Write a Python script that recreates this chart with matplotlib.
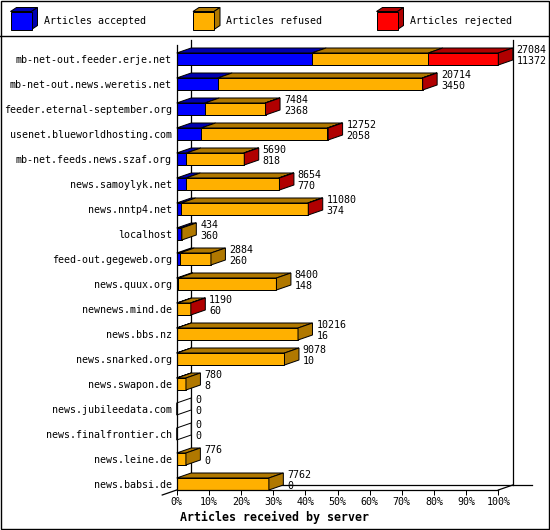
import matplotlib
matplotlib.use('Agg')
import matplotlib.pyplot as plt
from matplotlib.patches import Polygon, Rectangle
import numpy as np

plt.rcParams['font.family'] = ['DejaVu Sans Mono']

servers = ['mb-net-out.feeder.erje.net', 'mb-net-out.news.weretis.net',
           'feeder.eternal-september.org', 'usenet.blueworldhosting.com',
           'mb-net.feeds.news.szaf.org', 'news.samoylyk.net', 'news.nntp4.net',
           'localhost', 'feed-out.gegeweb.org', 'news.quux.org',
           'newnews.mind.de', 'news.bbs.nz', 'news.snarked.org',
           'news.swapon.de', 'news.jubileedata.com', 'news.finalfrontier.ch',
           'news.leine.de', 'news.babsi.de']
accepted = [11372, 3450, 2368, 2058, 818, 770, 374, 360, 260, 148,
            60, 16, 10, 8, 0, 0, 0, 0]
refused = [9817, 17224, 5086, 10634, 4832, 7824, 10666, 74, 2624, 8252,
           1118, 10200, 9068, 772, 0, 0, 776, 7762]
rejected = [5895, 40, 30, 60, 40, 60, 40, 0, 0, 0,
            12, 0, 0, 0, 0, 0, 0, 0]
pct_ticks = list(range(0, 101, 10))

series = [
    (accepted, '#0000ff', '#0000b0', 'Articles accepted'),
    (refused, '#ffb000', '#b07800', 'Articles refused'),
    (rejected, '#ff0000', '#b00000', 'Articles rejected'),
]

W, H = 550, 530
fig = plt.figure(figsize=(W / 100, H / 100), dpi=100)

# frame + legend strip, in pixel units
fa = fig.add_axes([0, 0, 1, 1], zorder=0)
fa.set_xlim(0, W)
fa.set_ylim(H, 0)
fa.axis('off')
fa.add_patch(Rectangle((0.5, 0.5), W - 1.5, H - 1.5, fill=False, ec='black', lw=1.0))
fa.plot([0, W], [35.5, 35.5], color='black', lw=1.0)
legend_x = [10.5, 193, 376.5]
for (vals, col, dark, lab), lx in zip(series, legend_x):
    fx0, fx1, fy0, fy1 = lx, lx + 21, 11.5, 29.5
    fa.add_patch(Polygon([(fx0, fy0), (fx1, fy0), (fx1 + 6, fy0 - 4), (fx0 + 6, fy0 - 4)],
                         fc=dark, ec='black', lw=0.72))
    fa.add_patch(Polygon([(fx1, fy0), (fx1 + 6, fy0 - 4), (fx1 + 6, fy1 - 4), (fx1, fy1)],
                         fc=dark, ec='black', lw=0.72))
    fa.add_patch(Rectangle((fx0, fy0), fx1 - fx0, fy1 - fy0, fc=col, ec='black', lw=0.72))
    fa.text(lx + 33.5, 20.5, lab, fontsize=7.2, va='center', ha='left')
fa.text(180, 517, 'Articles received by server', fontsize=8.4,
        fontweight='bold', va='center', ha='left')

# main chart
ax = fig.add_axes([176.7 / W, (H - 490) / H, 321.6 / W, 445 / H], zorder=1)
ax.patch.set_visible(False)
n = len(servers)
ypos = np.arange(n)
ax.set_xlim(0, 100)
ax.set_ylim(n - 1 + 0.24, -0.56)

dx, dy, h = 4.5, 0.2, 0.48
ybot = n - 1 + 0.24
ytop = -0.56

# back walls and floor
ax.plot([dx, dx], [ytop - dy, ybot - dy], color='black', lw=0.9, clip_on=False, zorder=1)
ax.plot([100 + dx, 100 + dx], [ytop - dy, ybot - dy], color='black', lw=0.9, clip_on=False, zorder=1)
ax.plot([dx, 110.4], [ybot - dy, ybot - dy], color='black', lw=0.9, clip_on=False, zorder=1)
ax.plot([100, 100 + dx], [ybot, ybot - dy], color='black', lw=0.9, clip_on=False, zorder=1)
ax.plot([-dx, 0], [ybot + dy, ybot], color='black', lw=0.9, clip_on=False, zorder=1)

totals = [a + r + j for a, r, j in zip(accepted, refused, rejected)]
scale = 100.0 / max(totals)

for i in range(n):
    c = ypos[i]
    t, b = c - h / 2, c + h / 2
    x0 = 0.0
    side = 'white'
    for vals, col, dark, lab in series:
        v = vals[i]
        if v <= 0:
            continue
        x1 = x0 + v * scale
        ax.add_patch(Rectangle((x0, t), x1 - x0, h, fc=col, ec='black', lw=0.72,
                               clip_on=False, zorder=3))
        ax.add_patch(Polygon([(x0, t), (x1, t), (x1 + dx, t - dy), (x0 + dx, t - dy)],
                             fc=dark, ec='black', lw=0.72, clip_on=False, zorder=3))
        side = dark
        x0 = x1
    ax.add_patch(Polygon([(x0, t), (x0 + dx, t - dy), (x0 + dx, b - dy), (x0, b)],
                         fc=side, ec='black', lw=0.72, clip_on=False, zorder=3))
    ax.text(x0 + dx + 1.2, c - 0.36, str(totals[i]), fontsize=7.2,
            va='center', ha='left', clip_on=False)
    ax.text(x0 + dx + 1.2, c + 0.08, str(accepted[i]), fontsize=7.2,
            va='center', ha='left', clip_on=False)

ax.spines['top'].set_visible(False)
ax.spines['right'].set_visible(False)
for s in ('left', 'bottom'):
    ax.spines[s].set_linewidth(0.9)
    ax.spines[s].set_zorder(4)
ax.set_xticks(pct_ticks, [f'{p}%' for p in pct_ticks])
ax.set_yticks(ypos, servers)
ax.tick_params(axis='x', direction='out', length=3.6, width=0.72, labelsize=7.2, pad=1.5)
ax.tick_params(axis='y', length=0, labelsize=7.2, pad=3.5)

fig.savefig('out.png', dpi=100, facecolor='white')
